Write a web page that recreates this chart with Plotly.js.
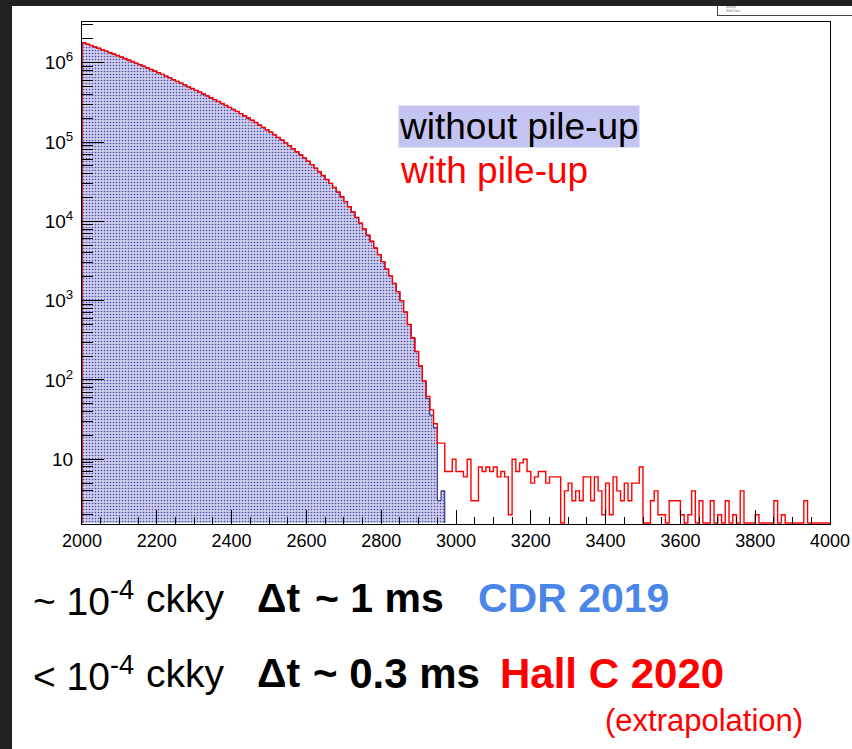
<!DOCTYPE html>
<html>
<head>
<meta charset="utf-8">
<script src="https://cdn.plot.ly/plotly-3.0.1.min.js"></script>
<style>
  html, body { margin: 0; padding: 0; background: #ffffff; }
  #wrap { position: relative; width: 852px; height: 749px; overflow: hidden; background: #ffffff; }
  #chart { position: absolute; left: 0; top: 0; width: 852px; height: 749px; }
  .edge { position: absolute; background: #212121; z-index: 5; }
  #stats { position: absolute; left: 717px; top: -3px; width: 150px; height: 19px;
           border: 1px solid #444; background: #fff; z-index: 4;
           font-family: 'Liberation Sans', Arial, sans-serif; font-size: 4px; color: #777;
           line-height: 4px; padding: 3px 0 0 8px; box-sizing: border-box; }
</style>
</head>
<body>
<div id="wrap">
  <div id="chart"></div>
  <div id="stats">Entries<br>Mean<br>Std Dev</div>
  <div class="edge" style="left:0;top:0;width:852px;height:6px;"></div>
  <div class="edge" style="left:0;top:0;width:12px;height:749px;"></div>
</div>
<script>
// Histogram binning: 200 bins of width 10 between 2000 and 4000
const binLow = 2000;
const binWidth = 10;

// Counts per bin without pile-up (bins 2000 ... 2960)
const withoutPileUp = [
  1784000, 1715000, 1648000, 1583000, 1519000, 1458000, 1399000, 1341000, 1285000, 1231000,
  1179000, 1129000, 1080000, 1033000, 988000, 944000, 902000, 861000, 822000, 784000,
  748000, 712000, 678000, 644000, 612000, 582000, 553000, 525000, 498000, 472000,
  448000, 425000, 403000, 382000, 361000, 342000, 324000, 306000, 289000, 273000,
  258000, 243000, 228000, 214000, 201000, 188000, 176000, 164000, 153000, 143000,
  133000, 123000, 114000, 106000, 97500, 89800, 82400, 75500, 69000, 63000,
  57100, 51800, 46800, 42100, 37800, 33700, 30100, 26700, 23400, 20400,
  17700, 15300, 13100, 11200, 9500, 8000, 6700, 5600, 4600, 3800,
  3100, 2500, 2050, 1650, 1300, 1000, 720, 500, 340, 228,
  150, 97, 58, 36, 25, 3, 4
];

// Counts per bin with pile-up (bins 2000 ... 3990)
const withPileUp = [
  1784000, 1715000, 1648000, 1583000, 1519000, 1458000, 1399000, 1341000, 1285000, 1231000,
  1179000, 1129000, 1080000, 1033000, 988000, 944000, 902000, 861000, 822000, 784000,
  748000, 712000, 678000, 644000, 612000, 582000, 553000, 525000, 498000, 472000,
  448000, 425000, 403000, 382000, 361000, 342000, 324000, 306000, 289000, 273000,
  258000, 243000, 228000, 214000, 201000, 188000, 176000, 164000, 153000, 143000,
  133000, 123000, 114000, 106000, 97500, 89800, 82400, 75500, 69000, 63000,
  57100, 51800, 46800, 42100, 37800, 33700, 30100, 26700, 23400, 20400,
  17700, 15300, 13100, 11200, 9500, 8000, 6700, 5600, 4600, 3800,
  3100, 2500, 2050, 1650, 1300, 1000, 720, 500, 340, 228,
  150, 97, 62, 42, 28, 16, 16, 7, 7, 10,
  7, 7, 6, 10, 3, 3, 8, 7, 8, 7,
  8, 6, 7, 6, 2, 10, 7, 9, 10, 7,
  5, 6, 7, 7, 5, 6, 6, 6, 0, 4,
  5, 3, 4, 3, 6, 6, 3, 6, 4, 2,
  5, 2, 6, 4, 3, 5, 3, 5, 5, 8,
  0, 0, 3, 4, 2, 2, 0, 3, 3, 3,
  2, 0, 2, 4, 0, 3, 0, 0, 3, 0,
  2, 0, 3, 0, 2, 0, 4, 0, 0, 0,
  2, 0, 0, 0, 0, 3, 0, 2, 0, 0,
  0, 0, 0, 3, 0, 0, 0, 0, 0, 0
];

// Axis ticks
const xTickVals = [2000, 2200, 2400, 2600, 2800, 3000, 3200, 3400, 3600, 3800, 4000];
const yTickVals = [10, 100, 1000, 10000, 100000, 1000000];
const yTickText = ['10', '10<sup>2</sup>', '10<sup>3</sup>', '10<sup>4</sup>', '10<sup>5</sup>', '10<sup>6</sup>'];

const yLogRange = [0.184, 6.513];
// bins below the axis minimum are drawn lying on the frame bottom
const yFloor = Math.pow(10, yLogRange[0] + 0.012);

// Outline of a histogram as a staircase
function staircase(counts) {
  const xs = [binLow], ys = [yFloor];
  counts.forEach((c, i) => {
    const v = Math.max(c, yFloor);
    xs.push(binLow + i * binWidth, binLow + (i + 1) * binWidth);
    ys.push(v, v);
  });
  xs.push(binLow + counts.length * binWidth);
  ys.push(yFloor);
  return { x: xs, y: ys };
}

// minor ticks of the log axis: 2..9 x 10^n
const yMinor = [];
for (let e = 0; e <= 6; e++) for (let m = 2; m <= 9; m++) yMinor.push(m * Math.pow(10, e));

const noPU = staircase(withoutPileUp);
const PU = staircase(withPileUp);

const traces = [
  {
    type: 'scatter', mode: 'lines', x: noPU.x, y: noPU.y,
    line: { color: '#14147a', width: 1, shape: 'linear' },
    fill: 'toself',
    fillcolor: '#b2b2dc',
    fillpattern: { shape: '.', fgcolor: '#4848a8', bgcolor: '#cdcdec', size: 3, solidity: 0.24 },
    hoverinfo: 'skip'
  },
  {
    type: 'scatter', mode: 'lines', x: PU.x, y: PU.y,
    line: { color: '#ff0000', width: 1.4, shape: 'linear' },
    hoverinfo: 'skip'
  }
];

const FONT = "'Liberation Sans', Arial, Helvetica, sans-serif";
const L = 82, T = 22, PW = 748, PH = 502;
const px = v => (v - L) / PW;
const py = v => (T + PH - v) / PH;

function ann(text, x, y, size, color, extra) {
  return Object.assign({
    text: text, xref: 'paper', yref: 'paper', x: px(x), y: py(y),
    xanchor: 'left', yanchor: 'middle', showarrow: false,
    font: { family: FONT, size: size, color: color }
  }, extra || {});
}

const annotations = [
  ann('without pile-up', 398, 126, 37, '#000000', { bgcolor: '#c4c4f2', borderpad: 0 }),
  ann('with pile-up', 398, 171, 37, '#ff0000'),
  ann('~ 10<sup>-4</sup>', 31, 598, 39, '#000000'),
  ann('ckky', 144, 598, 39, '#000000'),
  ann('<b>\u0394t</b>', 255, 598, 41, '#000000'),
  ann('<b>~ 1 ms</b>', 313, 598, 41, '#000000'),
  ann('<b>CDR 2019</b>', 476, 598, 41, '#4a86e8'),
  ann('&lt; 10<sup>-4</sup>', 31, 673, 39, '#000000'),
  ann('ckky', 144, 673, 39, '#000000'),
  ann('<b>\u0394t</b>', 255, 673, 41, '#000000'),
  ann('<b>~ 0.3 ms</b>', 311, 673, 42, '#000000'),
  ann('<b>Hall C 2020</b>', 498, 673, 42, '#ff0000'),
  ann('(extrapolation)', 603, 720, 31, '#ff0000')
];

const layout = {
  width: 852, height: 749,
  margin: { l: L, r: 852 - L - PW, t: T, b: 749 - T - PH, pad: 0 },
  paper_bgcolor: '#ffffff', plot_bgcolor: '#ffffff',
  showlegend: false,
  font: { family: FONT, color: '#000000' },
  xaxis: {
    range: [2000, 4000], tickmode: 'array', tickvals: xTickVals,
    ticks: 'inside', ticklen: 14, tickwidth: 1, tickcolor: '#000',
    minor: { dtick: 50, tick0: 2000, ticks: 'inside', ticklen: 7, tickwidth: 1, tickcolor: '#000' },
    showgrid: false, zeroline: false,
    showline: true, mirror: true, linecolor: '#000', linewidth: 1,
    tickfont: { family: FONT, size: 18, color: '#000' }
  },
  yaxis: {
    type: 'log', range: yLogRange, tickmode: 'array', tickvals: yTickVals, ticktext: yTickText,
    ticks: 'inside', ticklen: 22, tickwidth: 1, tickcolor: '#000',
    minor: { tickmode: 'array', tickvals: yMinor, ticks: 'inside', ticklen: 11, tickwidth: 1, tickcolor: '#000' },
    showgrid: false, zeroline: false,
    showline: true, mirror: true, linecolor: '#000', linewidth: 1,
    ticklabelstandoff: 4,
    tickfont: { family: FONT, size: 19, color: '#000' }
  },
  annotations: annotations
};

Plotly.newPlot('chart', traces, layout, { displayModeBar: false, staticPlot: true });
</script>
</body>
</html>
